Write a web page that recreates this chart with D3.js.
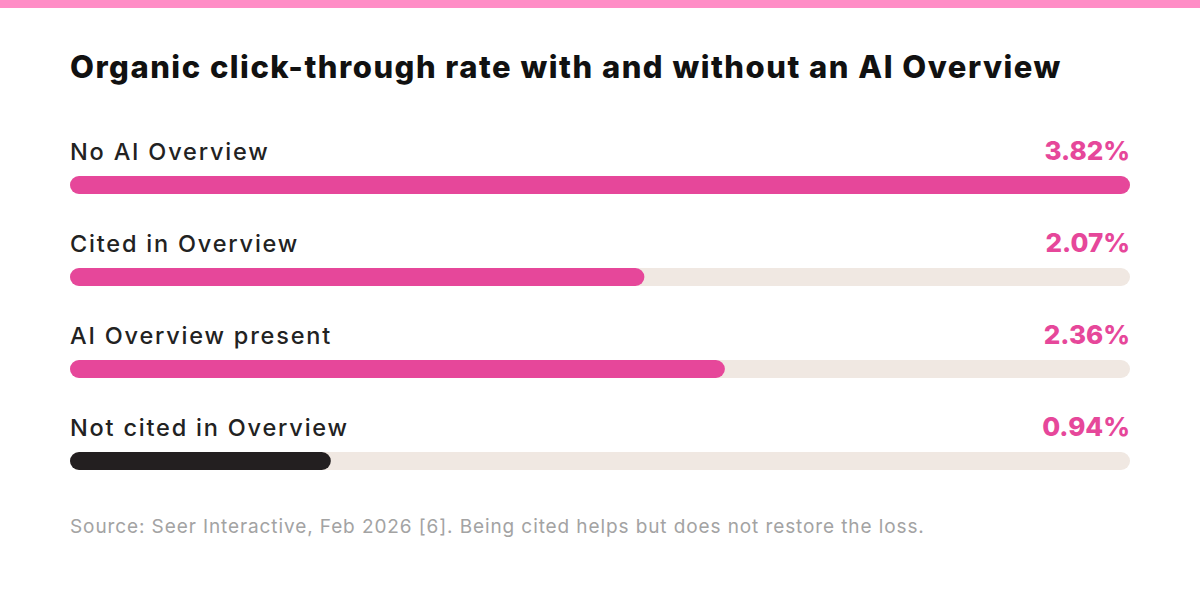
<!DOCTYPE html>
<html>
<head>
<meta charset="utf-8">
<script src="https://cdn.jsdelivr.net/npm/d3@7"></script>
<style>
	html, body { margin: 0; padding: 0; background: #fff; }
	svg { display: block; font-family: "Inter", "Noto Sans", sans-serif; }
</style>
</head>
<body>
<svg id="chart" width="1200" height="609"></svg>
<script>
	// データ
	var categories = ["No AI Overview", "Cited in Overview", "AI Overview present", "Not cited in Overview"];
	var values = [3.82, 2.07, 2.36, 0.94];
	var valueLabels = ["3.82%", "2.07%", "2.36%", "0.94%"];
	var barColors = ["#e6479a", "#e6479a", "#e6479a", "#231f20"];

	var title = "Organic click-through rate with and without an AI Overview";
	var source = "Source: Seer Interactive, Feb 2026 [6]. Being cited helps but does not restore the loss.";

	var svg = d3.select("#chart");
	var left = 70, right = 1130;
	var barH = 18;

	// 上の帯
	svg.append("rect")
		.attr("x", 0).attr("y", 0)
		.attr("width", 1200).attr("height", 8)
		.attr("fill", "#ff8dc6");

	// タイトル
	svg.append("text")
		.attr("x", left).attr("y", 78)
		.attr("font-size", "31px")
		.attr("font-weight", 800)
		.attr("letter-spacing", "1.5px")
		.attr("fill", "#111")
		.text(title);

	var x = d3.scaleLinear()
		.domain([0, d3.max(values)])
		.range([0, right - left]);

	// 行の位置
	var y = d3.scalePoint()
		.domain(categories)
		.range([176, 452]);

	var rows = svg.append("g")
		.selectAll("g")
		.data(categories)
		.enter()
		.append("g")
		.attr("transform", function(d){ return "translate(" + left + "," + y(d) + ")"; });

	// 背景トラック
	rows.append("rect")
		.attr("width", x(d3.max(values)))
		.attr("height", barH)
		.attr("rx", barH / 2)
		.attr("fill", "#f0e8e2");

	// バー
	rows.append("rect")
		.attr("width", function(d,i){ return x(values[i]); })
		.attr("height", barH)
		.attr("rx", barH / 2)
		.attr("fill", function(d,i){ return barColors[i]; });

	// ラベル
	rows.append("text")
		.attr("y", -16)
		.attr("font-size", "23.5px")
		.attr("font-weight", 500)
		.attr("letter-spacing", "1.8px")
		.attr("fill", "#222")
		.text(function(d){ return d; });

	// 数値
	rows.append("text")
		.attr("x", right - left)
		.attr("y", -16)
		.attr("text-anchor", "end")
		.attr("font-size", "26px")
		.attr("font-weight", 800)
		.attr("fill", "#e6479a")
		.text(function(d,i){ return valueLabels[i]; });

	// 出典
	svg.append("text")
		.attr("x", left).attr("y", 533)
		.attr("font-size", "19px")
		.attr("letter-spacing", "0.9px")
		.attr("fill", "#a3a3a3")
		.text(source);
</script>
</body>
</html>
